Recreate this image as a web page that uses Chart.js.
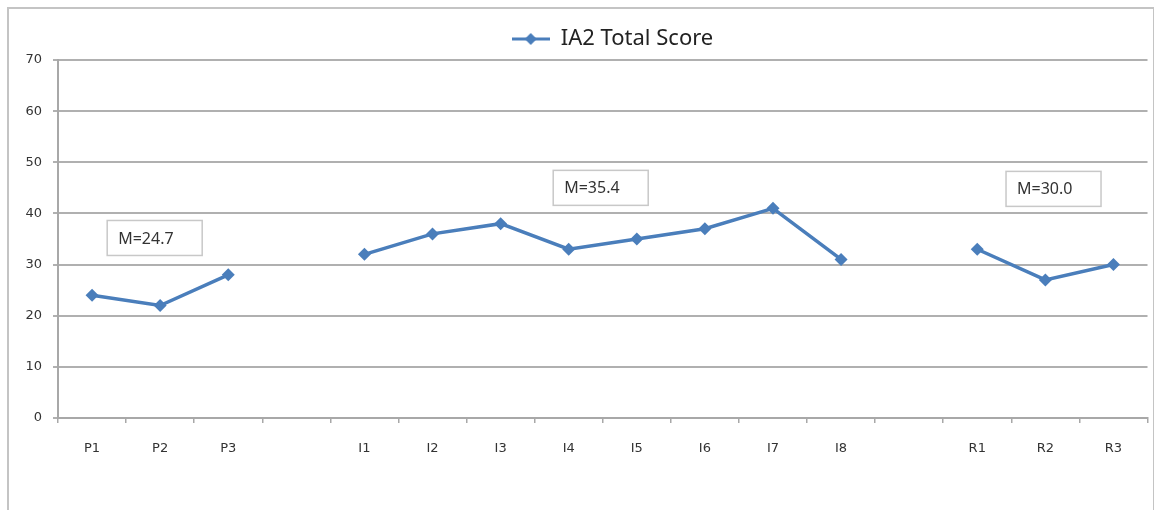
<!DOCTYPE html>
<html>
<head>
<meta charset="utf-8">
<script src="https://cdn.jsdelivr.net/npm/chart.js@4.4.1/dist/chart.umd.min.js"></script>
<style>
  html, body { margin: 0; padding: 0; background: #fff; }
  #frame {
    position: absolute; left: 7px; top: 7px; width: 1144px; height: 520px;
    border: 2px solid #c4c4c4; border-bottom: none;
  }
  #wrap { position: absolute; left: 0; top: 0; width: 1154px; height: 510px; }
</style>
</head>
<body>
<div id="frame"></div>
<div id="wrap"><canvas id="scoreChart"></canvas></div>
<script>
// categories, with empty slots between the three phases
const categories = ['P1', 'P2', 'P3', '', 'I1', 'I2', 'I3', 'I4', 'I5', 'I6', 'I7', 'I8', '', 'R1', 'R2', 'R3'];
const totalScore = [24, 22, 28, null, 32, 36, 38, 33, 35, 37, 41, 31, null, 33, 27, 30];
const yTicks = [0, 10, 20, 30, 40, 50, 60, 70];
const meanLabels = ['M=24.7', 'M=35.4', 'M=30.0'];

const lineColor = '#4a7ebb';
</script>
<script>
document.addEventListener('DOMContentLoaded', function() {
    const ctx = document.getElementById('scoreChart');
    if (!ctx) return;

    // legend marker: short line with a diamond in the middle
    const marker = document.createElement('canvas');
    marker.width = 38; marker.height = 14;
    const m = marker.getContext('2d');
    m.strokeStyle = lineColor; m.lineWidth = 3;
    m.beginPath(); m.moveTo(0, 7); m.lineTo(38, 7); m.stroke();
    m.fillStyle = lineColor;
    m.beginPath(); m.moveTo(19, 1); m.lineTo(25, 7); m.lineTo(19, 13); m.lineTo(13, 7); m.closePath(); m.fill();

    // where the mean boxes sit (category index, value)
    const boxSpots = [[0.92, 35.2], [7.47, 45.0], [14.12, 44.8]];

    const meanBoxes = {
        id: 'meanBoxes',
        afterDatasetsDraw(chart) {
            const c = chart.ctx;
            const xs = chart.scales.x, ys = chart.scales.y;
            c.save();
            c.font = '16px "Noto Sans"';
            c.textBaseline = 'middle';
            meanLabels.forEach((txt, i) => {
                const i0 = Math.floor(boxSpots[i][0]);
                const px = xs.getPixelForValue(i0) + (boxSpots[i][0] - i0) * (xs.getPixelForValue(i0 + 1) - xs.getPixelForValue(i0));
                const py = ys.getPixelForValue(boxSpots[i][1]);
                const w = 95, h = 35;
                c.fillStyle = '#fff';
                c.fillRect(px - w / 2, py - h / 2, w, h);
                c.strokeStyle = '#c8c8c8'; c.lineWidth = 1.5;
                c.strokeRect(px - w / 2, py - h / 2, w, h);
                c.fillStyle = '#333';
                c.fillText(txt, px - w / 2 + 11, py + 1);
            });
            c.restore();
        }
    };

    // the legend sits a little right of centre in the original
    const nudgeLegend = {
        id: 'nudgeLegend',
        afterLayout(chart) {
            if (!chart.legend) return;
            chart.legend.left += 76;
            chart.legend.adjustHitBoxes();
        }
    };

    new Chart(ctx.getContext('2d'), {
        type: 'line',
        data: {
            labels: categories,
            datasets: [{
                label: 'IA2 Total Score',
                data: totalScore,
                borderColor: lineColor,
                backgroundColor: lineColor,
                borderWidth: 3.5,
                pointStyle: 'rectRot',
                pointRadius: 6.5,
                pointBackgroundColor: lineColor,
                pointBorderWidth: 0,
                spanGaps: false,
                tension: 0
            }]
        },
        options: {
            responsive: true,
            maintainAspectRatio: false,
            animation: false,
            layout: { padding: { top: 18, right: 5, left: 0, bottom: 0 } },
            scales: {
                x: {
                    offset: true,
                    grid: { offset: true, drawOnChartArea: false, drawTicks: true, tickLength: 5, color: '#a8a8a8', lineWidth: 1.5 },
                    border: { color: '#a8a8a8', width: 2 },
                    ticks: { color: '#333', font: { family: 'DejaVu Sans', size: 13 }, padding: 18, maxRotation: 0, autoSkip: false },
                    afterFit(scale) { scale.height = 92; }
                },
                y: {
                    min: 0, max: 70,
                    afterBuildTicks(scale) { scale.ticks = yTicks.map(v => ({ value: v })); },
                    grid: { color: '#b0b0b0', lineWidth: 2, tickLength: 5 },
                    border: { color: '#a8a8a8', width: 2 },
                    ticks: { color: '#333', font: { family: 'DejaVu Sans', size: 13 }, padding: 11 },
                    afterFit(scale) { scale.width = 58; }
                }
            },
            plugins: {
                legend: {
                    display: true,
                    position: 'top',
                    labels: {
                        usePointStyle: true,
                        pointStyle: marker,
                        pointStyleWidth: 38,
                        color: '#222',
                        font: { family: 'Noto Sans', size: 22 },
                        padding: 10
                    }
                },
                tooltip: { enabled: false }
            }
        },
        plugins: [meanBoxes, nudgeLegend]
    });
});
</script>
</body>
</html>
